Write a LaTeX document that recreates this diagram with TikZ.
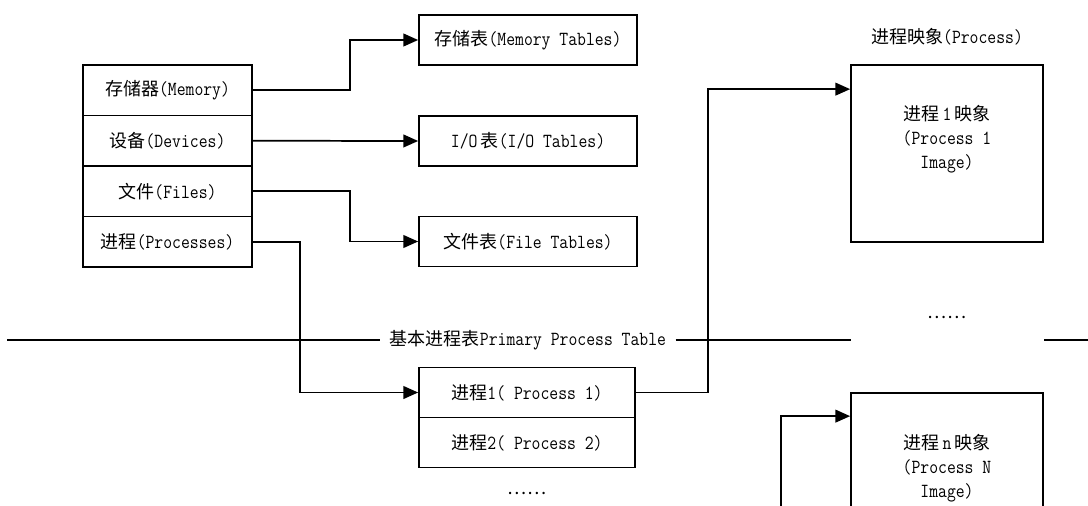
\documentclass[tikz,border=0pt]{standalone}
\usepackage{fontspec}
\newfontfamily\zhfont{Noto Sans CJK SC}
\newfontfamily\enfont{Latin Modern Mono}[FakeStretch=0.86]
\newcommand{\zh}[1]{{\zhfont\fontsize{13.5}{18}\selectfont #1}}
\usetikzlibrary{arrows.meta}

\tikzset{
	txt/.style={font=\enfont\fontsize{15}{18}\selectfont, inner sep=0pt},
	cell/.style={txt, draw, line width=1.3pt, minimum width=126.75pt, minimum height=37.9pt},
	tab/.style={cell, minimum width=163.5pt, minimum height=37.5pt},
	pbox/.style={cell, minimum width=162pt, minimum height=37.5pt},
	img/.style={draw, line width=1.3pt, minimum width=144pt, minimum height=132.75pt, inner sep=0pt},
	rule/.style={line width=1.3pt},
	link/.style={line width=1.3pt, -{Triangle[length=11pt,width=9.5pt]}}
}

\begin{document}
\begin{tikzpicture}[x=0.75pt,y=0.75pt,yscale=-1]
	\clip (0,0) rectangle (1088,506);
	
	\node[cell] (mem) at (167.5,90.25) {\zh{存储器}(Memory)};
	\node[cell] (dev) at (167.5,140.75) {\zh{设备}(Devices)};
	\node[cell] (file) at (167.5,191.25) {\zh{文件}(Files)};
	\node[cell] (proc) at (167.5,241.75) {\zh{进程}(Processes)};
	
	\node[tab] (memtab) at (528,40) {\zh{存储表}(Memory Tables)};
	\node[tab] (iotab) at (528,141) {I/O\,\zh{表}(I/O Tables)};
	\node[tab] (filetab) at (528,241.5) {\zh{文件表}(File Tables)};
	
	\node[pbox] (p1) at (527,392.5) {\zh{进程}1( Process 1)};
	\node[pbox] (p2) at (527,442.5) {\zh{进程}2( Process 2)};
	\node[txt] (pdots) at (527,493) {\zh{……}};
	
	\node[txt, inner xsep=7pt] (ppt) at (528,340) {\zh{基本进程表}Primary Process Table};
	\coordinate (lineL) at (7,340);
	\coordinate (lineM) at (851,340);
	\coordinate (lineR) at (1044,340);
	\coordinate (lineE) at (1088,340);
	\draw[rule] (lineL) -- (ppt.west);
	\draw[rule] (ppt.east) -- (lineM);
	\draw[rule] (lineR) -- (lineE);
	
	\node[txt] (imgttl) at (947,37) {\zh{进程映象}(Process)};
	\node[img] (img1) at (947,153.5) {};
	\node[txt, align=center] (img1txt) at (947,139) {\zh{进程}\,1\,\zh{映象}\\(Process 1\\Image)};
	\node[txt] (idots) at (947,317) {\zh{……}};
	\node[img] (imgn) at (947,481.5) {};
	\node[txt, align=center] (imgntxt) at (947,468) {\zh{进程}\,n\,\zh{映象}\\(Process N\\Image)};
	
	\draw[link] (mem.east) -- ++(97,0) |- (memtab.west);
	\draw[link] (dev.east) -- (iotab.west);
	\draw[link] (file.east) -- ++(97,0) |- (filetab.west);
	\draw[link] (proc.east) -- ++(47,0) |- (p1.west);
	\draw[link] (p1.east) -- ++(72,0) |- ([yshift=18.75pt]img1.north west);
	\coordinate (nfoot) at (781,520);
	\draw[link] (nfoot) |- ([yshift=18pt]imgn.north west);
	
\end{tikzpicture}
\end{document}
